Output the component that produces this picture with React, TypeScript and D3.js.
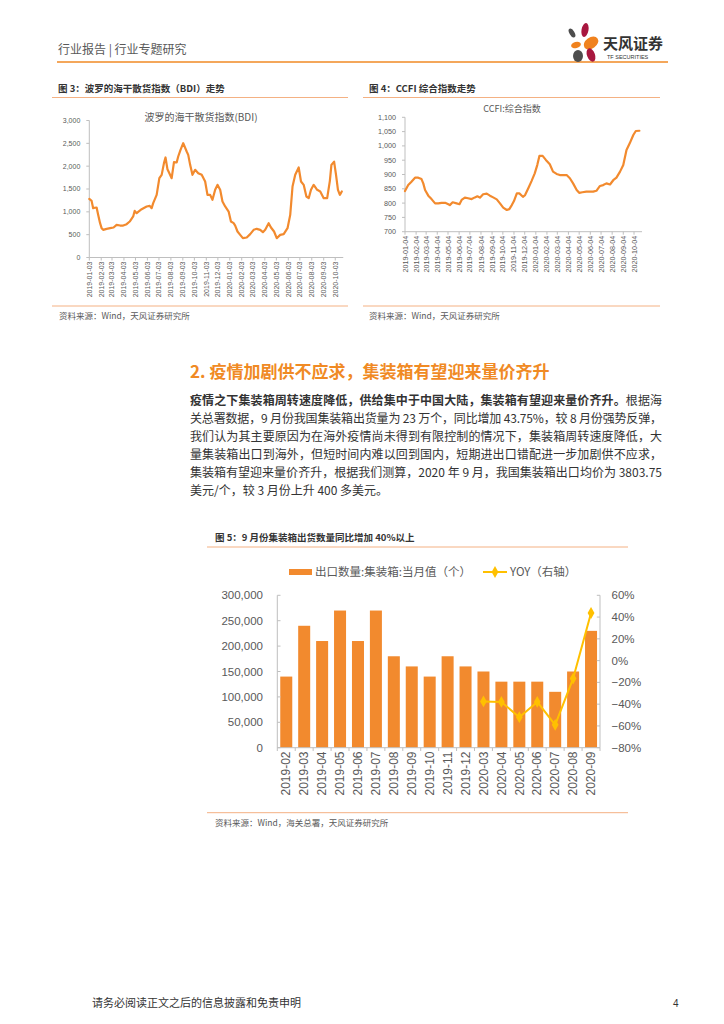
import React from 'react';
import * as d3 from 'd3';

// ---------- DATA ----------
const bdiDates = ['2019-01-03','2019-01-09','2019-01-13','2019-01-17','2019-01-22','2019-01-26','2019-01-31','2019-02-04','2019-02-08','2019-02-17','2019-02-26','2019-03-07','2019-03-15','2019-03-24','2019-04-01','2019-04-10','2019-04-18','2019-04-27','2019-05-01','2019-05-06','2019-05-10','2019-05-19','2019-06-01','2019-06-09','2019-06-14','2019-06-18','2019-06-27','2019-07-04','2019-07-10','2019-07-16','2019-07-20','2019-07-25','2019-07-30','2019-08-05','2019-08-11','2019-08-18','2019-08-22','2019-08-28','2019-09-04','2019-09-13','2019-09-17','2019-09-22','2019-09-28','2019-10-05','2019-10-13','2019-10-22','2019-10-31','2019-11-06','2019-11-13','2019-11-19','2019-11-26','2019-12-02','2019-12-09','2019-12-15','2019-12-22','2019-12-31','2020-01-06','2020-01-13','2020-01-17','2020-01-23','2020-01-30','2020-02-06','2020-02-16','2020-02-25','2020-03-05','2020-03-13','2020-03-22','2020-03-29','2020-04-04','2020-04-13','2020-04-19','2020-04-27','2020-05-04','2020-05-13','2020-05-22','2020-06-01','2020-06-08','2020-06-14','2020-06-21','2020-06-30','2020-07-06','2020-07-13','2020-07-20','2020-07-26','2020-08-01','2020-08-08','2020-08-17','2020-08-25','2020-09-03','2020-09-12','2020-09-19','2020-09-23','2020-09-30','2020-10-05','2020-10-10','2020-10-15','2020-10-20'];
const bdiValues = [1282,1240,1080,1090,1095,934,752,642,606,628,642,657,715,700,700,730,788,898,1022,970,1000,1058,1117,1131,1080,1190,1372,1737,1810,2066,2190,1934,1847,1737,2088,2080,2212,2358,2504,2321,2248,2029,1810,1920,1847,1810,1664,1372,1372,1263,1482,1591,1482,1226,1117,1007,788,752,700,569,496,423,438,511,606,628,606,555,606,752,657,569,423,496,511,642,934,1555,1810,1971,1664,1591,1336,1299,1482,1591,1482,1445,1299,1299,1679,2029,2098,1810,1482,1372,1445];
const bdiTickLabels = ['2019-01-03','2019-02-03','2019-03-03','2019-04-03','2019-05-03','2019-06-03','2019-07-03','2019-08-03','2019-09-03','2019-10-03','2019-11-03','2019-12-03','2020-01-03','2020-02-03','2020-03-03','2020-04-03','2020-05-03','2020-06-03','2020-07-03','2020-08-03','2020-09-03','2020-10-03'];
const bdiYTicks = [0,500,1000,1500,2000,2500,3000];

const ccfiDates = ['2019-01-04','2019-01-13','2019-01-22','2019-02-01','2019-02-10','2019-02-19','2019-02-24','2019-03-01','2019-03-10','2019-03-19','2019-03-29','2019-04-07','2019-04-16','2019-04-26','2019-05-05','2019-05-09','2019-05-17','2019-05-28','2019-06-05','2019-06-11','2019-06-20','2019-06-29','2019-07-09','2019-07-18','2019-07-25','2019-08-01','2019-08-10','2019-08-20','2019-08-29','2019-09-07','2019-09-17','2019-09-26','2019-10-05','2019-10-15','2019-10-22','2019-10-29','2019-11-04','2019-11-12','2019-11-19','2019-11-29','2019-12-05','2019-12-14','2019-12-23','2020-01-01','2020-01-08','2020-01-14','2020-01-23','2020-02-01','2020-02-12','2020-02-21','2020-03-02','2020-03-11','2020-03-20','2020-03-30','2020-04-08','2020-04-17','2020-04-27','2020-05-04','2020-05-13','2020-05-24','2020-06-03','2020-06-12','2020-06-21','2020-07-01','2020-07-10','2020-07-19','2020-07-29','2020-08-07','2020-08-16','2020-08-26','2020-09-04','2020-09-13','2020-09-22','2020-10-02','2020-10-09','2020-10-19'];
const ccfiValues = [842,863,875,889,889,884,869,846,826,814,799,799,801,801,796,793,803,799,796,811,819,817,814,820,824,819,831,833,826,820,813,799,784,776,779,793,807,834,834,822,828,852,877,904,933,965,965,951,936,910,902,898,898,898,887,869,846,836,838,840,840,840,843,860,863,869,865,880,889,910,933,986,1009,1038,1052,1053];
const ccfiTickLabels = ['2019-01-04','2019-02-04','2019-03-04','2019-04-04','2019-05-04','2019-06-04','2019-07-04','2019-08-04','2019-09-04','2019-10-04','2019-11-04','2019-12-04','2020-01-04','2020-02-04','2020-03-04','2020-04-04','2020-05-04','2020-06-04','2020-07-04','2020-08-04','2020-09-04','2020-10-04'];
const ccfiYTicks = [700,750,800,850,900,950,1000,1050,1100];

const exportMonths = ['2019-02','2019-03','2019-04','2019-05','2019-06','2019-07','2019-08','2019-09','2019-10','2019-11','2019-12','2020-03','2020-04','2020-05','2020-06','2020-07','2020-08','2020-09'];
const exportValues = [140000,240000,210000,270000,210000,270000,180000,160000,140000,180000,160000,150000,130000,130000,130000,110000,150000,230000];
const yoyMonths = ['2020-03','2020-04','2020-05','2020-06','2020-07','2020-08','2020-09'];
const yoyValues = [-0.375,-0.38,-0.52,-0.38,-0.59,-0.165,0.4375];
const leftTicks = [0,50000,100000,150000,200000,250000,300000];
const rightTicks = [-0.8,-0.6,-0.4,-0.2,0,0.2,0.4,0.6];

const paragraph = [
  '关总署数据，9 月份我国集装箱出货量为 23 万个，同比增加 43.75%，较 8 月份强势反弹，',
  '我们认为其主要原因为在海外疫情尚未得到有限控制的情况下，集装箱周转速度降低，大',
  '量集装箱出口到海外，但短时间内难以回到国内，短期进出口错配进一步加剧供不应求，',
  '集装箱有望迎来量价齐升，根据我们测算，2020 年 9 月，我国集装箱出口均价为 3803.75',
];

// ---------- STYLE ----------
const CJK = "'Noto Sans CJK SC', 'Noto Sans', sans-serif";
const NUM = "'Liberation Sans', Arial, 'Noto Sans CJK SC', sans-serif";
const ORANGE = '#F28A2E';
const LINE_ORANGE = '#F4B183';
const AXIS = '#BFBFBF';
const LABEL = '#595959';
const parse = d3.timeParse('%Y-%m-%d');
const fmtComma = d3.format(',');

function LineChart({ dates, values, tickLabels, yTicks, xDomain, xRange, yDomain, yRange, title, titleX, titleY, titleSize, labelSize }) {
  const x = d3.scaleTime().domain(xDomain.map(parse)).range(xRange);
  const y = d3.scaleLinear().domain(yDomain).range(yRange);
  const pts = dates.map((d, i) => [parse(d), values[i]]);
  const line = d3.line().x(d => x(d[0])).y(d => y(d[1]));
  const x0 = xRange[0];
  const yb = yRange[0];
  return (
    <g>
      <text x={titleX} y={titleY} textAnchor="middle" fontFamily={CJK} fontSize={titleSize} fill={LABEL}>{title}</text>
      <line x1={x0} x2={x0} y1={yRange[1]} y2={yb} stroke={AXIS} strokeWidth={1} />
      <line x1={x0} x2={x(parse(tickLabels[tickLabels.length - 1])) + 8} y1={yb} y2={yb} stroke={AXIS} strokeWidth={1} />
      {yTicks.map(t => (
        <g key={t}>
          <line x1={x0 - 3} x2={x0} y1={y(t)} y2={y(t)} stroke={AXIS} />
          <text x={x0 - 9} y={y(t)} dy="0.35em" textAnchor="end" fontFamily={NUM} fontSize={labelSize} fill={LABEL}>{fmtComma(t)}</text>
        </g>
      ))}
      {tickLabels.map(t => {
        const xx = x(parse(t));
        return (
          <g key={t}>
            <line x1={xx} x2={xx} y1={yb} y2={yb + 3} stroke={AXIS} />
            <text transform={`translate(${xx},${yb + 4}) rotate(-90)`} textAnchor="end" dy="0.35em" fontFamily={NUM} fontSize={labelSize} fill={LABEL}>{t}</text>
          </g>
        );
      })}
      <path d={line(pts)} fill="none" stroke={ORANGE} strokeWidth={2.2} strokeLinejoin="round" strokeLinecap="round" />
    </g>
  );
}

function BarChart() {
  const x = d3.scaleBand().domain(exportMonths).range([277.3, 600]).paddingInner(0.33).paddingOuter(0.165);
  const yL = d3.scaleLinear().domain([0, 300000]).range([747.7, 595.3]);
  const yR = d3.scaleLinear().domain([-0.8, 0.6]).range([747.7, 595.3]);
  const half = (x.step() - x.bandwidth()) / 2;
  const yoyPts = yoyMonths.map((m, i) => [x(m) + x.bandwidth() / 2, yR(yoyValues[i])]);
  const line = d3.line();
  const diamond = d3.symbol().type(d3.symbolDiamond).size(40);
  return (
    <g>
      {/* legend */}
      <rect x={289} y={569} width={23} height={6} fill={ORANGE} />
      <text x={315} y={572} dy="0.35em" fontFamily={CJK} fontSize={11.5} fill={LABEL}>出口数量:集装箱:当月值（个）</text>
      <line x1={483} x2={507} y1={572} y2={572} stroke="#FFC000" strokeWidth={2} />
      <path d={diamond()} transform="translate(495,572)" fill="#FFC000" />
      <text x={510} y={572} dy="0.35em" fontFamily={CJK} fontSize={11.5} fill={LABEL}>YOY（右轴）</text>
      {/* bars */}
      {exportMonths.map((m, i) => (
        <rect key={m} x={x(m)} y={yL(exportValues[i])} width={x.bandwidth()} height={yL(0) - yL(exportValues[i])} fill={ORANGE} />
      ))}
      {/* left axis */}
      <line x1={277.3} x2={277.3} y1={595.3} y2={747.7} stroke={AXIS} />
      {leftTicks.map(t => (
        <g key={t}>
          <line x1={277.3} x2={280.5} y1={yL(t)} y2={yL(t)} stroke={AXIS} />
          <text x={263} y={yL(t)} dy="0.35em" textAnchor="end" fontFamily={NUM} fontSize={11.5} fill={LABEL}>{fmtComma(t)}</text>
        </g>
      ))}
      {/* right axis */}
      <line x1={600} x2={600} y1={595.3} y2={747.7} stroke={AXIS} />
      {rightTicks.map(t => (
        <g key={t}>
          <line x1={596.8} x2={600} y1={yR(t)} y2={yR(t)} stroke={AXIS} />
          <text x={611.5} y={yR(t)} dy="0.35em" textAnchor="start" fontFamily={NUM} fontSize={11.5} fill={LABEL}>{d3.format('.0%')(t)}</text>
        </g>
      ))}
      {/* bottom axis */}
      <line x1={277.3} x2={600} y1={747.7} y2={747.7} stroke={AXIS} />
      {exportMonths.map(m => (
        <line key={'t' + m} x1={x(m) - half} x2={x(m) - half} y1={747.7} y2={751} stroke={AXIS} />
      ))}
      <line x1={600} x2={600} y1={747.7} y2={751} stroke={AXIS} />
      {exportMonths.map(m => (
        <text key={'l' + m} transform={`translate(${x(m) + x.bandwidth() / 2},${751.5}) rotate(-90)`} textAnchor="end" dy="0.35em" fontFamily={NUM} fontSize={12} fill={LABEL}>{m}</text>
      ))}
      {/* yoy line */}
      <path d={line(yoyPts)} fill="none" stroke="#FFC000" strokeWidth={2} strokeLinejoin="round" />
      {yoyPts.map((p, i) => (
        <path key={i} d={diamond()} transform={`translate(${p[0]},${p[1]})`} fill="#FFC000" />
      ))}
    </g>
  );
}

function Logo() {
  return (
    <g>
      <ellipse cx={572} cy={33} rx={2.5} ry={5} transform="rotate(-30 572 33)" fill="#4D4D4D" />
      <ellipse cx={585} cy={30} rx={3.5} ry={7} transform="rotate(10 585 30)" fill="#A8173F" />
      <ellipse cx={591} cy={43} rx={8} ry={5.5} transform="rotate(-35 591 43)" fill="#F0821E" />
      <ellipse cx={576} cy={45} rx={5} ry={3} transform="rotate(-15 576 45)" fill="#F0821E" />
      <ellipse cx={578} cy={56} rx={5} ry={6} fill="#4D4D4D" />
      <ellipse cx={591} cy={55} rx={4} ry={7} transform="rotate(-20 591 55)" fill="#A8173F" />
      <text x={603} y={49} fontFamily={CJK} fontSize={15} fontWeight="bold" fill="#333">天风证券</text>
      <text x={607} y={59} fontFamily={NUM} fontSize={5.5} fill="#333">TF SECURITIES</text>
    </g>
  );
}

export default function App() {
  return (
    <svg width={724} height={1024} style={{ position: 'absolute', left: 0, top: 0, background: '#fff' }}>
      <rect width={724} height={1024} fill="#fff" />
      {/* header */}
      <text x={58} y={54} fontFamily={CJK} fontSize={12} fill={LABEL}>行业报告 | 行业专题研究</text>
      <line x1={57} x2={668} y1={62} y2={62} stroke="#F08A24" strokeWidth={1.5} />
      <Logo />

      {/* Figure 3 */}
      <text x={58} y={91.5} fontFamily={CJK} fontSize={9.5} fontWeight="bold" fill="#333">图 3：波罗的海干散货指数（BDI）走势</text>
      <line x1={52} x2={348} y1={97.5} y2={97.5} stroke={LINE_ORANGE} strokeWidth={1} />
      <LineChart dates={bdiDates} values={bdiValues} tickLabels={bdiTickLabels} yTicks={bdiYTicks}
        xDomain={['2019-01-03', '2020-10-20']} xRange={[89.3, 341.8]} yDomain={[0, 3000]} yRange={[257.5, 120.5]}
        title="波罗的海干散货指数(BDI)" titleX={201} titleY={120.5} titleSize={10} labelSize={7} />
      <line x1={52} x2={348} y1={306} y2={306} stroke={LINE_ORANGE} strokeWidth={1} />
      <text x={59} y={319} fontFamily={CJK} fontSize={8.5} fill={LABEL}>资料来源：Wind，天风证券研究所</text>

      {/* Figure 4 */}
      <text x={369} y={91.5} fontFamily={CJK} fontSize={9.5} fontWeight="bold" fill="#333">图 4：CCFI 综合指数走势</text>
      <line x1={363} x2={660} y1={97.5} y2={97.5} stroke={LINE_ORANGE} strokeWidth={1} />
      <LineChart dates={ccfiDates} values={ccfiValues} tickLabels={ccfiTickLabels} yTicks={ccfiYTicks}
        xDomain={['2019-01-04', '2020-10-19']} xRange={[405, 639.4]} yDomain={[700, 1100]} yRange={[231.7, 117.3]}
        title="CCFI:综合指数" titleX={512} titleY={111.5} titleSize={9} labelSize={7.2} />
      <line x1={363} x2={660} y1={306} y2={306} stroke={LINE_ORANGE} strokeWidth={1} />
      <text x={369} y={319} fontFamily={CJK} fontSize={8.5} fill={LABEL}>资料来源：Wind，天风证券研究所</text>

      {/* Section */}
      <text x={190} y={377.5} fontFamily={CJK} fontSize={17} fontWeight="bold" fill="#F08A24">2. 疫情加剧供不应求，集装箱有望迎来量价齐升</text>
      <text x={190} y={404.5} fontFamily={CJK} fontSize={12} fill="#333" textLength={472} lengthAdjust="spacing">
        <tspan fontWeight="bold">疫情之下集装箱周转速度降低，供给集中于中国大陆，集装箱有望迎来量价齐升。</tspan>根据海
      </text>
      {paragraph.map((p, i) => (
        <text key={i} x={190} y={422.5 + i * 18} fontFamily={CJK} fontSize={12} fill="#333" textLength={472} lengthAdjust="spacing">{p}</text>
      ))}
      <text x={190} y={494.5} fontFamily={CJK} fontSize={12} fill="#333">美元/个，较 3 月份上升 400 多美元。</text>

      {/* Figure 5 */}
      <text x={215} y={540.5} fontFamily={CJK} fontSize={9.5} fontWeight="bold" fill="#333">图 5：9 月份集装箱出货数量同比增加 40%以上</text>
      <line x1={207} x2={628} y1={547} y2={547} stroke={LINE_ORANGE} strokeWidth={1} />
      <BarChart />
      <line x1={207} x2={628} y1={812.7} y2={812.7} stroke={LINE_ORANGE} strokeWidth={1} />
      <text x={215} y={826} fontFamily={CJK} fontSize={8.5} fill={LABEL}>资料来源：Wind，海关总署，天风证券研究所</text>

      {/* footer */}
      <text x={92} y={1007} fontFamily={CJK} fontSize={11} fill="#333">请务必阅读正文之后的信息披露和免责申明</text>
      <text x={673} y={1007} fontFamily={NUM} fontSize={10} fill="#333">4</text>
    </svg>
  );
}
